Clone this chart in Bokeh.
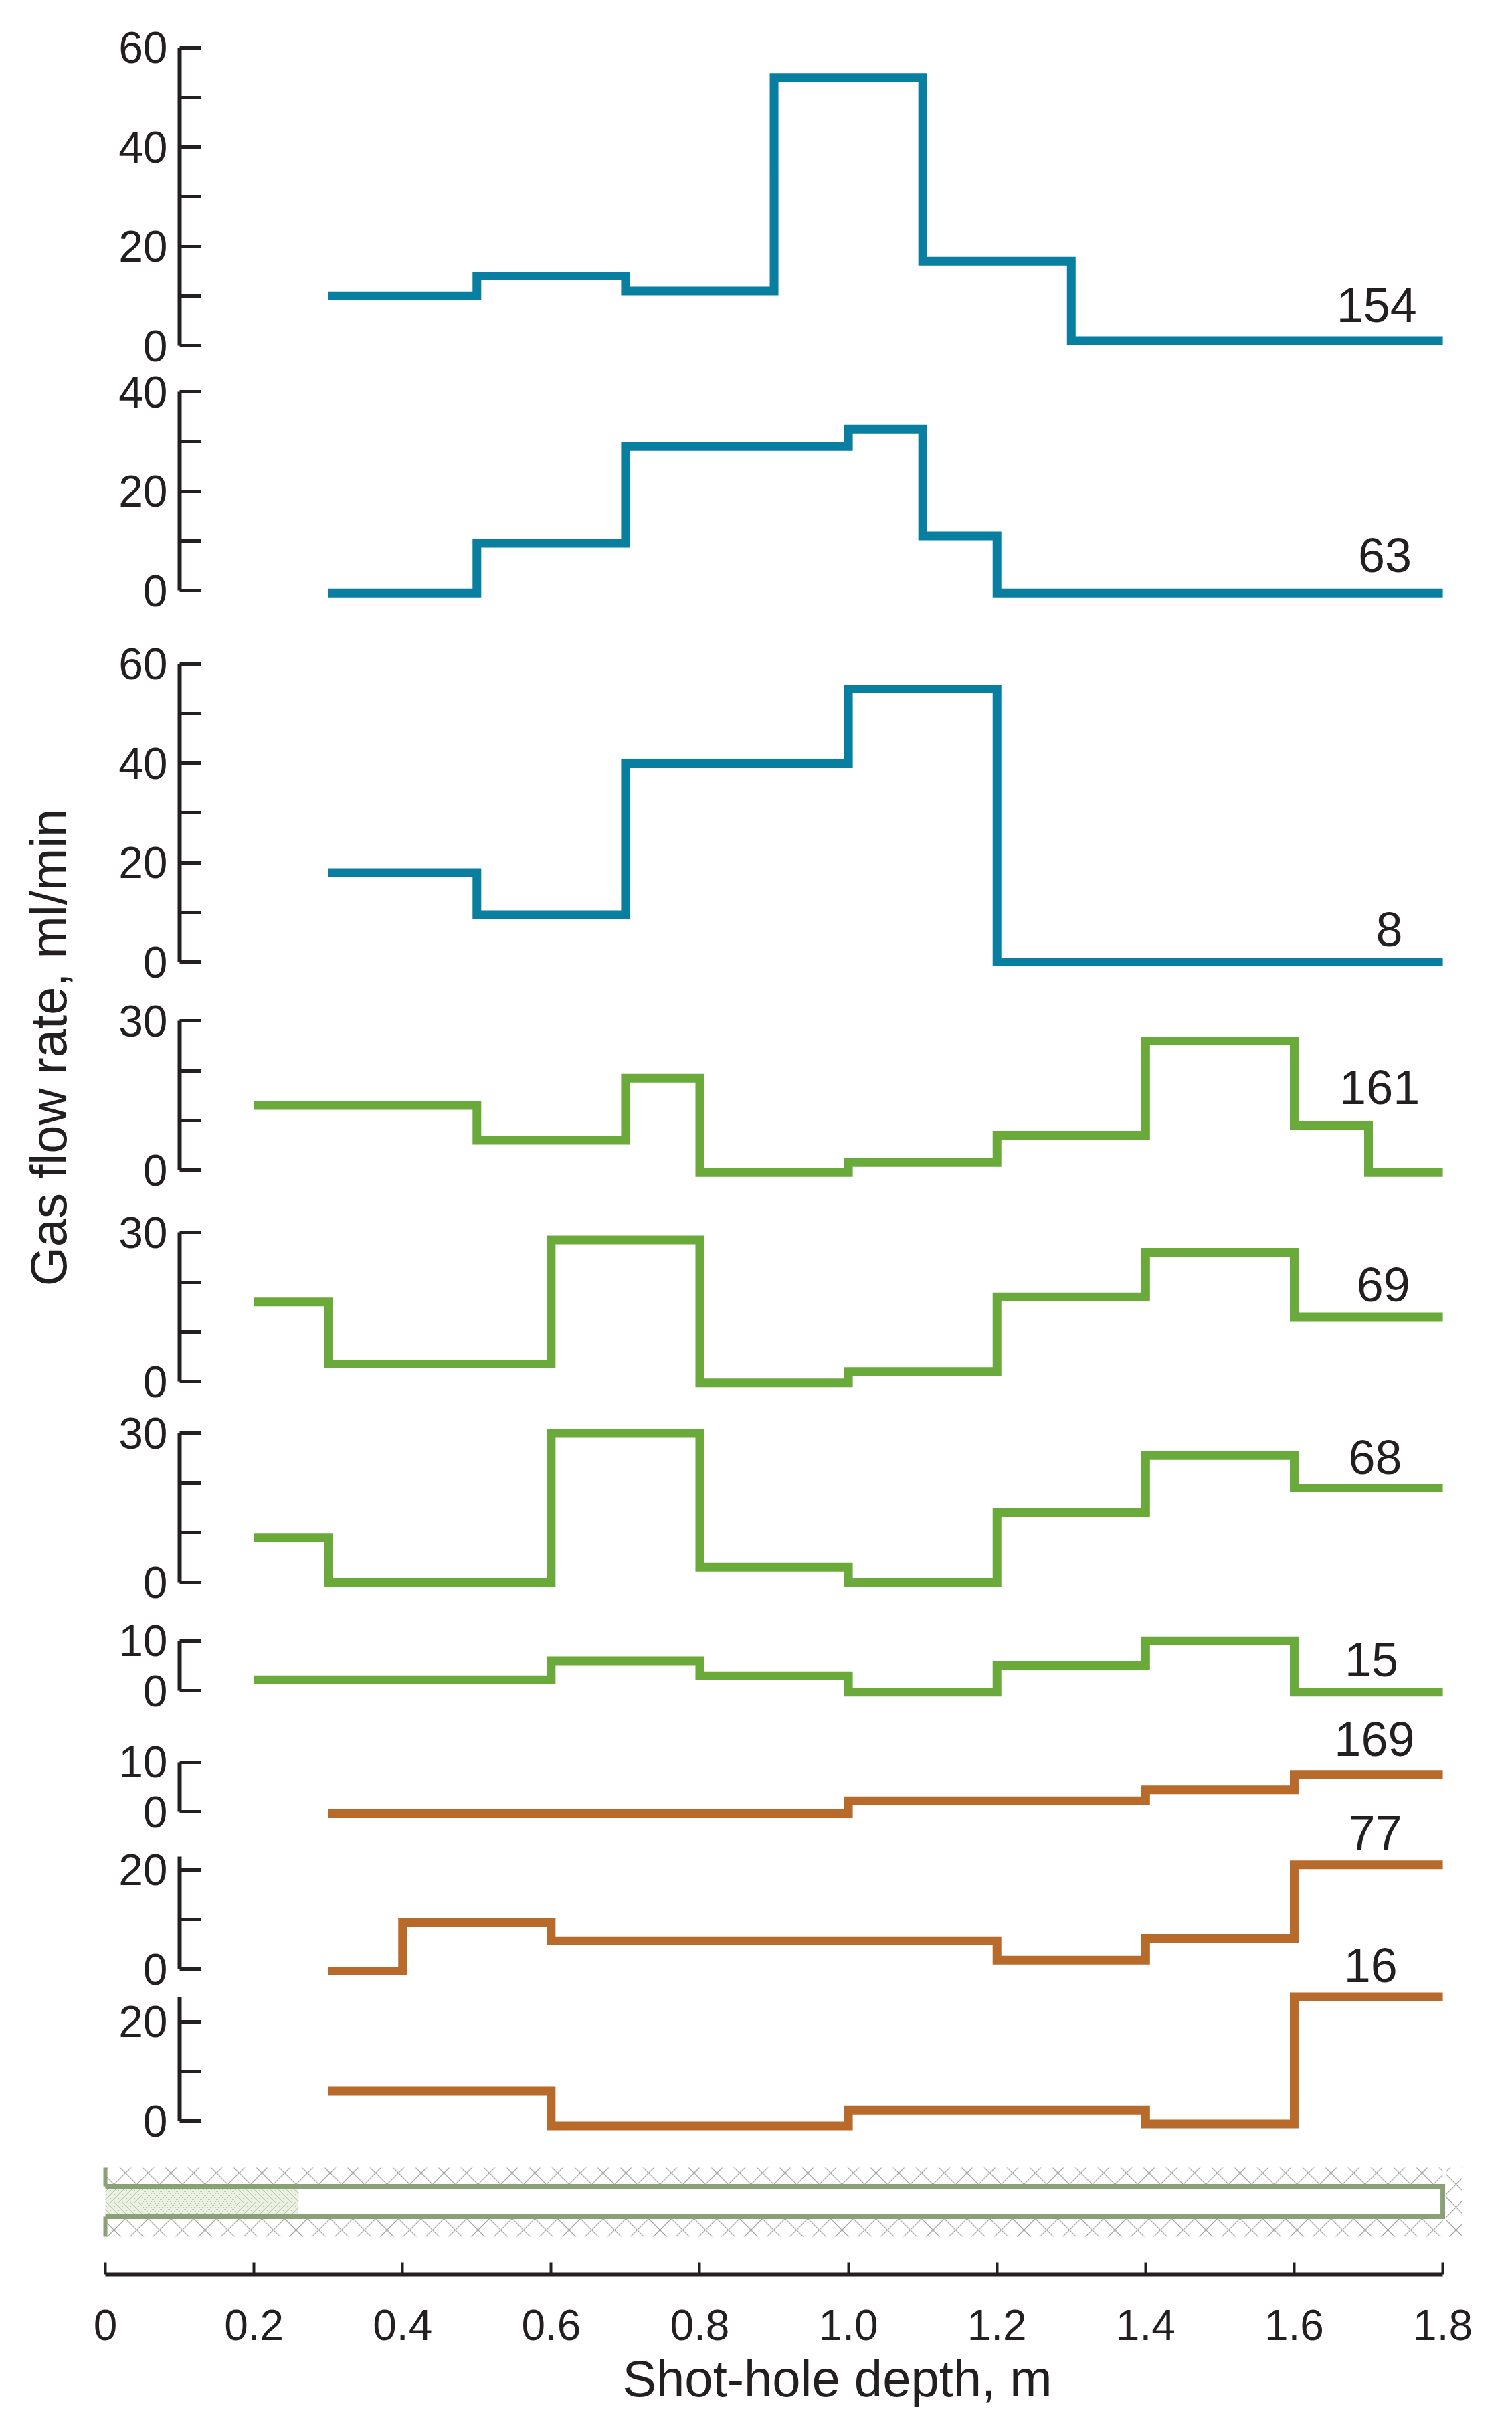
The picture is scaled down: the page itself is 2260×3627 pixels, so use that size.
import math
from bokeh.plotting import figure
from bokeh.models import Range1d, LinearAxis, FixedTicker, Label
from bokeh.core.properties import value
from bokeh.embed import file_html
from bokeh.resources import INLINE

# ---------------- data ----------------
x_ticks = [0, 0.2, 0.4, 0.6, 0.8, 1.0, 1.2, 1.4, 1.6, 1.8]
x_tick_labels = ["0", "0.2", "0.4", "0.6", "0.8", "1.0", "1.2", "1.4", "1.6", "1.8"]

hole_ids = ["154", "63", "8", "161", "69", "68", "15", "169", "77", "16"]

depth_154 = [0.3, 0.5, 0.7, 0.9, 1.1, 1.3, 1.8]
rate_154 = [10, 14, 11, 54, 17, 1]
depth_63 = [0.3, 0.5, 0.7, 1.0, 1.1, 1.2, 1.8]
rate_63 = [-0.5, 9.5, 29, 32.5, 11, -0.5]
depth_8 = [0.3, 0.5, 0.7, 1.0, 1.2, 1.8]
rate_8 = [18, 9.5, 40, 55, 0]
depth_161 = [0.2, 0.5, 0.7, 0.8, 1.0, 1.2, 1.4, 1.6, 1.7, 1.8]
rate_161 = [13, 6, 18.5, -0.5, 1.5, 7, 26, 9, -0.5]
depth_69 = [0.2, 0.3, 0.6, 0.8, 1.0, 1.2, 1.4, 1.6, 1.8]
rate_69 = [16, 3.5, 28.5, -0.3, 2, 17, 26, 13]
depth_68 = [0.2, 0.3, 0.6, 0.8, 1.0, 1.2, 1.4, 1.6, 1.8]
rate_68 = [9, 0, 30, 3, 0, 14, 25.5, 19]
depth_15 = [0.2, 0.6, 0.8, 1.0, 1.2, 1.4, 1.6, 1.8]
rate_15 = [2.2, 6, 3, -0.3, 5, 10, -0.3]
depth_169 = [0.3, 1.0, 1.4, 1.6, 1.8]
rate_169 = [-0.4, 2.2, 4.4, 7.5]
depth_77 = [0.3, 0.4, 0.6, 1.2, 1.4, 1.6, 1.8]
rate_77 = [-0.4, 9.3, 5.7, 1.8, 6.2, 21]
depth_16 = [0.3, 0.6, 1.0, 1.4, 1.6, 1.8]
rate_16 = [6, -1, 2.2, -0.6, 25]

y_major_ticks = [[0, 20, 40, 60], [0, 20, 40], [0, 20, 40, 60], [0, 30], [0, 30], [0, 30],
                 [0, 10], [0, 10], [0, 20], [0, 20]]
y_minor_ticks = [[10, 30, 50], [10, 30], [10, 30, 50], [10, 20], [10, 20], [10, 20],
                 [], [], [10], [10]]
y_axis_top = [60, 40, 60, 30, 30, 30, 10, 10, 22.7, 25]

# ---------------- layout / style ----------------
W, H, M = 2244, 3611, 8
X0_PX, PX_PER_M = 165.0, 1110.6          # page x of depth 0, pixels per metre
PX_PER_UNIT = 7.42                       # pixels per ml/min
zero_px = [524, 890, 1445, 1756, 2072, 2372, 2534, 2715, 2950, 3177]
label_x = [1.711, 1.722, 1.728, 1.715, 1.720, 1.709, 1.704, 1.708, 1.709, 1.703]
label_y = [8.2, 7.1, 6.5, 16.6, 19.5, 25.1, 6.3, 14.6, 27.4, 31.4]
BLUE, GREEN, ORANGE = "#087ea1", "#6aaa3a", "#b86a2a"
colors = [BLUE] * 3 + [GREEN] * 4 + [ORANGE] * 3
INK = "#231f20"
FONT = "Liberation Sans"
AXIS_X = 0.1
X_AXIS_Y = 3407

series = [(depth_154, rate_154), (depth_63, rate_63), (depth_8, rate_8),
          (depth_161, rate_161), (depth_69, rate_69), (depth_68, rate_68),
          (depth_15, rate_15), (depth_169, rate_169), (depth_77, rate_77),
          (depth_16, rate_16)]

# borehole schematic (depths in m, vertical in page px)
casing_depth = [0.0, 1.8]
charge_depth = [0.0, 0.26]
wave_top_band = [3247, 3273]
wave_bot_band = [3322, 3350]
pipe_edges = [3275, 3320]


def px_to_x(px):
    return (px - X0_PX) / PX_PER_M


p = figure(width=W, height=H,
           x_range=Range1d(px_to_x(M), px_to_x(M + W)),
           y_range=Range1d(M + H, M),
           x_axis_location=None, y_axis_location=None,
           toolbar_location=None, output_backend="svg",
           min_border=0, outline_line_color=None)
p.xgrid.grid_line_color = None
p.ygrid.grid_line_color = None

for i, ((xs, ys), hid) in enumerate(zip(series, hole_ids)):
    name = f"p{i}"
    z = zero_px[i]
    p.extra_y_ranges[name] = Range1d((z - (M + H)) / PX_PER_UNIT, (z - M) / PX_PER_UNIT)
    ax = LinearAxis(y_range_name=name, fixed_location=AXIS_X, bounds=(0, y_axis_top[i]),
                    ticker=FixedTicker(ticks=y_major_ticks[i], minor_ticks=y_minor_ticks[i]),
                    axis_line_width=6, axis_line_color=INK, axis_line_cap="butt",
                    major_tick_in=32, major_tick_out=0, major_tick_line_width=5,
                    major_tick_line_color=INK,
                    minor_tick_in=32, minor_tick_out=0, minor_tick_line_width=5,
                    minor_tick_line_color=INK,
                    major_label_standoff=18, major_label_text_font=FONT,
                    major_label_text_font_size="66px", major_label_text_color=INK)
    p.add_layout(ax, "left")
    p.step(x=xs, y=ys + [ys[-1]], mode="after", y_range_name=name,
           line_width=13, line_color=colors[i], line_join="miter", line_cap="butt")
    p.text(x=[label_x[i]], y=[label_y[i]], text=[hid], y_range_name=name,
           text_font=value(FONT), text_font_size="72px", text_color=INK,
           text_align="center", text_baseline="middle")

# borehole schematic
WAVE = dict(fill_color=None, line_color=None, hatch_pattern="x", hatch_color="#ababab",
            hatch_scale=34, hatch_weight=1.3)
for band in (wave_top_band, wave_bot_band):
    p.quad(left=[casing_depth[0]], right=[casing_depth[1]], top=[band[0]], bottom=[band[1]],
           **WAVE)
p.quad(left=[casing_depth[1] + 0.004], right=[casing_depth[1] + 0.026],
       top=[wave_top_band[0]], bottom=[wave_bot_band[1]], **WAVE)
p.quad(left=[charge_depth[0]], right=[charge_depth[1]], top=[pipe_edges[0] + 3],
       bottom=[pipe_edges[1] - 3], fill_color="#eaf1e2", line_color=None,
       hatch_pattern="x", hatch_color="#b9c7aa", hatch_scale=12, hatch_weight=1)
p.line(x=[casing_depth[0], casing_depth[1], casing_depth[1], casing_depth[0]],
       y=[pipe_edges[0], pipe_edges[0], pipe_edges[1], pipe_edges[1]],
       line_width=7, line_color="#8aa076", line_join="miter")
p.multi_line(xs=[[casing_depth[0]] * 2, [casing_depth[0]] * 2],
             ys=[[wave_top_band[0], pipe_edges[0]], [pipe_edges[1], wave_bot_band[1]]],
             line_width=6, line_color="#8aa076")

# depth axis
xa = LinearAxis(fixed_location=X_AXIS_Y, bounds=(0, 1.8),
                ticker=FixedTicker(ticks=x_ticks, minor_ticks=[]),
                major_label_overrides=dict(zip(x_ticks, x_tick_labels)),
                axis_line_width=6, axis_line_color=INK,
                major_tick_in=18, major_tick_out=0, major_tick_line_width=4,
                major_tick_line_color=INK, minor_tick_in=0, minor_tick_out=0,
                major_label_standoff=52, major_label_text_font=FONT,
                major_label_text_font_size="64px", major_label_text_color=INK)
p.add_layout(xa, "below")

# axis titles
p.add_layout(Label(x=px_to_x(80), y=1573, text="Gas flow rate, ml/min", angle=math.pi / 2,
                   text_font=FONT, text_font_size="76px", text_color=INK,
                   text_align="center", text_baseline="middle"))
p.add_layout(Label(x=px_to_x(1259), y=3562, text="Shot-hole depth, m",
                   text_font=FONT, text_font_size="76px", text_color=INK,
                   text_align="center", text_baseline="alphabetic"))

open("out.html", "w").write(file_html(p, INLINE))
